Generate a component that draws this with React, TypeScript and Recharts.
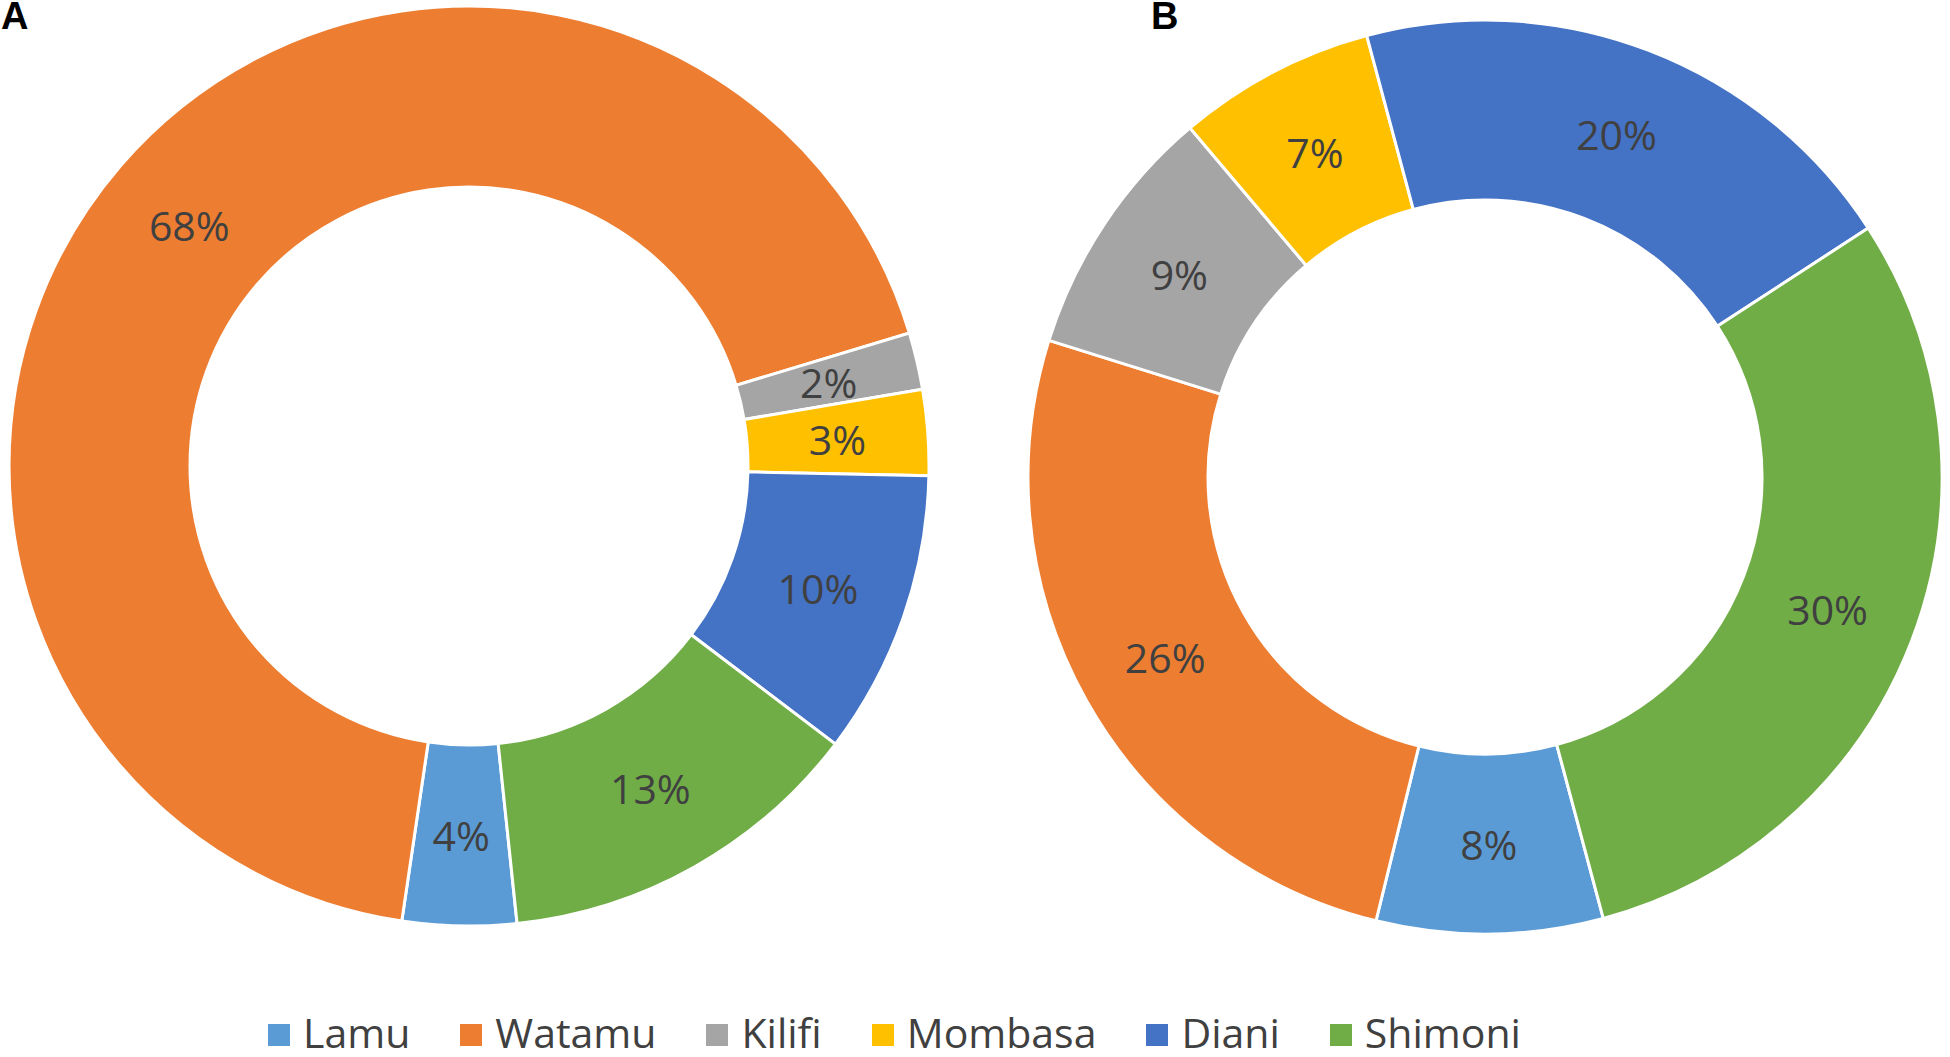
import React from 'react';
import { PieChart, Pie, Cell, Legend } from 'recharts';

const categories = ['Lamu', 'Watamu', 'Kilifi', 'Mombasa', 'Diani', 'Shimoni'];
const valuesA = [4, 68, 2, 3, 10, 13];
const valuesB = [8, 26, 9, 7, 20, 30];
const colors = ['#5B9BD5', '#ED7D31', '#A5A5A5', '#FFC000', '#4472C4', '#70AD47'];
const panelLabels = ['A', 'B'];

const dataA = categories.map((name, i) => ({ name, value: valuesA[i] }));
const dataB = categories.map((name, i) => ({ name, value: valuesB[i] }));

const RAD = Math.PI / 180;
const FONT = '"Open Sans", "Noto Sans", sans-serif';

const renderLabel = (props: any) => {
  const { cx, cy, midAngle, innerRadius, outerRadius, value } = props;
  const r = (innerRadius + outerRadius) / 2;
  const x = cx + r * Math.cos(-midAngle * RAD);
  const y = cy + r * Math.sin(-midAngle * RAD);
  return (
    <text
      x={x}
      y={y}
      fill="#404040"
      textAnchor="middle"
      dominantBaseline="central"
      fontSize={41}
      fontFamily={FONT}
    >
      {`${value}%`}
    </text>
  );
};

const renderLegend = () => (
  <div style={{ display: 'flex', alignItems: 'flex-start', gap: 50, fontFamily: FONT }}>
    {categories.map((c, i) => (
      <div key={c} style={{ display: 'flex', alignItems: 'flex-start' }}>
        <div style={{ width: 22, height: 22, background: colors[i], marginTop: 12, marginRight: 13 }} />
        <span style={{ fontSize: 41, lineHeight: '41px', color: '#404040', whiteSpace: 'nowrap' }}>{c}</span>
      </div>
    ))}
  </div>
);

const panelStyle: React.CSSProperties = {
  position: 'absolute',
  top: 0,
  fontFamily: '"Liberation Sans", Arial, sans-serif',
  fontWeight: 'bold',
  fontSize: 38,
  lineHeight: '32px',
  color: '#000',
};

export default function App() {
  return (
    <div style={{ position: 'absolute', left: 0, top: 0, width: 1950, height: 1057, background: '#fff' }}>
      <PieChart width={1950} height={1057} margin={{ top: 0, right: 0, bottom: 0, left: 0 }}>
        <Pie
          data={dataA}
          dataKey="value"
          nameKey="name"
          cx={469}
          cy={466}
          innerRadius={279}
          outerRadius={460}
          startAngle={-84}
          endAngle={-444}
          stroke="#fff"
          strokeWidth={3}
          label={renderLabel}
          labelLine={false}
          isAnimationActive={false}
        >
          {dataA.map((d, i) => (
            <Cell key={d.name} fill={colors[i]} />
          ))}
        </Pie>
        <Pie
          data={dataB}
          dataKey="value"
          nameKey="name"
          cx={1485}
          cy={477}
          innerRadius={277}
          outerRadius={457}
          startAngle={-75}
          endAngle={-435}
          stroke="#fff"
          strokeWidth={3}
          label={renderLabel}
          labelLine={false}
          legendType="none"
          isAnimationActive={false}
        >
          {dataB.map((d, i) => (
            <Cell key={d.name} fill={colors[i]} />
          ))}
        </Pie>
        <Legend
          content={renderLegend}
          wrapperStyle={{ position: 'absolute', left: 268, top: 1012, width: 1400, height: 45, bottom: 'auto' }}
        />
      </PieChart>
      <div style={{ ...panelStyle, left: 1 }}>{panelLabels[0]}</div>
      <div style={{ ...panelStyle, left: 1151 }}>{panelLabels[1]}</div>
    </div>
  );
}
